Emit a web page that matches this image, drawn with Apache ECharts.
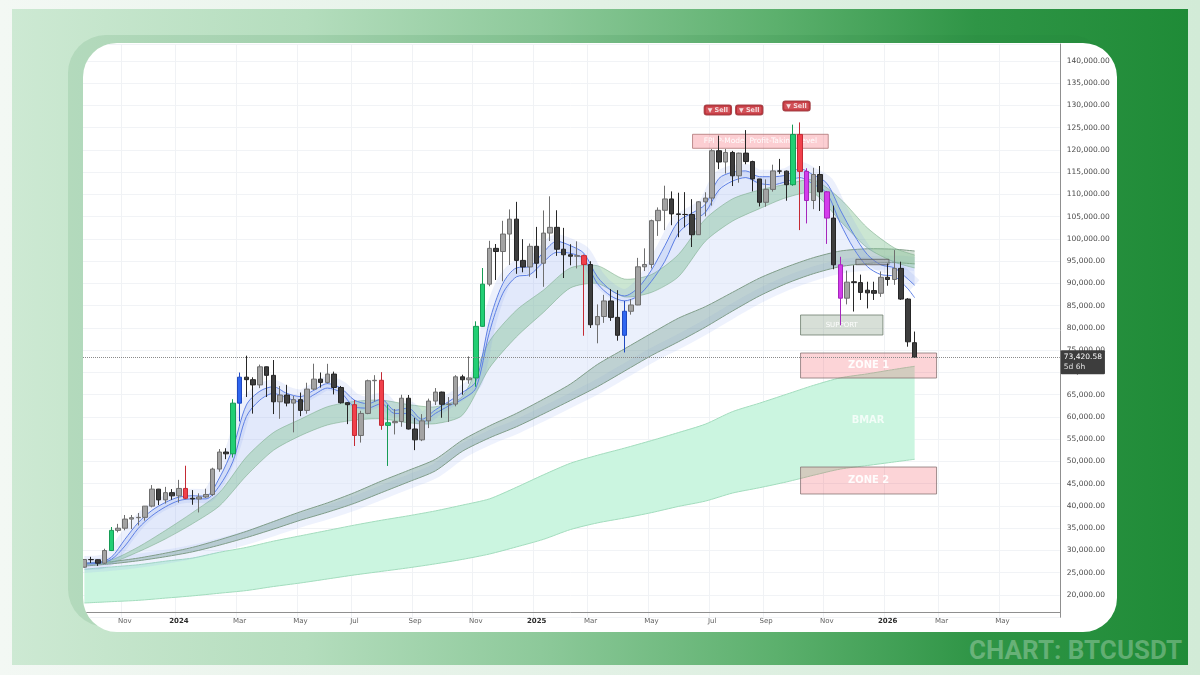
<!DOCTYPE html>
<html>
<head>
<meta charset="utf-8">
<script src="https://cdn.jsdelivr.net/npm/echarts@6.0.0/dist/echarts.min.js"></script>
<style>
  html, body { margin:0; padding:0; }
  body { width:1200px; height:675px; overflow:hidden; position:relative; background:linear-gradient(90deg,#f3f8f4 0%,#e2f1e5 50%,#d2ebd7 100%); }
  #panel { position:absolute; left:12px; top:9px; width:1176px; height:656px; background:linear-gradient(90deg,#cde9d3 0%,#b4ddbd 25%,#8dc99a 45%,#5cb06d 65%,#2f9546 82%,#1f8b37 100%); }
  #shade { position:absolute; left:68px; top:35px; width:1040px; height:592px; border-radius:38px; background:rgba(30,120,60,0.12); }
  #card { position:absolute; left:83px; top:43px; width:1034px; height:589px; border-radius:34px; background:#ffffff; overflow:hidden; }
  #chart { position:absolute; left:-83px; top:-43px; width:1200px; height:675px; }
  #brand { position:absolute; left:969px; top:635px; font-family:Roboto, 'Liberation Sans', sans-serif; font-weight:700; font-size:26px; color:rgba(255,255,255,0.28); white-space:nowrap; }
</style>
</head>
<body>
<div id="panel"></div>
<div id="shade"></div>
<div id="card"><div id="chart"></div></div>
<div id="brand">CHART: BTCUSDT</div>
<script>
// ---------- categories (weekly bars) ----------
const startWeek = Date.UTC(2023, 8, 25);
const weekCount = 145;
const weeks = [];
for (let i = 0; i < weekCount; i++) weeks.push(new Date(startWeek + i * 7 * 864e5).toISOString().slice(0, 10));

// ---------- tick labels ----------
const tickDates = ['2023-11-06','2024-01-01','2024-03-04','2024-05-06','2024-07-01','2024-09-02','2024-11-04','2025-01-06','2025-03-03','2025-05-05','2025-07-07','2025-09-01','2025-11-03','2026-01-05','2026-03-02','2026-05-04'];
const tickTexts = ['Nov','2024','Mar','May','Jul','Sep','Nov','2025','Mar','May','Jul','Sep','Nov','2026','Mar','May'];

// ---------- weekly OHLC (BTCUSDT) ----------
const open = [26250,27980,27930,27150,29990,34520,35010,37060,37370,37450,39970,43790,41370,43000,42280,43950,41730,41580,42030,42590,48300,52130,51730,63110,68950,68390,67210,71280,69360,63420,64940,63120,63900,61480,66270,68510,67770,69650,66630,63210,62770,55850,60800,68150,68250,58120,58710,58970,64220,57300,54870,59130,63580,65600,62850,62900,69030,68370,68780,80370,89855,97900,97185,101110,104460,95190,93720,98360,94550,101330,102620,97700,96460,96120,96260,94270,80730,82580,86080,82390,78360,83760,85170,93750,94280,104120,106450,109000,105640,105520,105500,100960,108360,109200,119840,117300,119450,114200,119300,117400,113490,108250,111150,115300,115250,112200,123500,115200,108650,114500,110600,104700,94200,86700,90400,90200,88500,88400,87800,91400,90900,93400,86500,76700];
const high = [28050,28580,28000,30400,35280,35980,37980,37980,38420,40000,44700,43840,44300,43800,45880,49050,43580,42850,43880,48600,52800,52980,64000,69990,73780,68920,71770,71340,72800,66950,67230,64730,65500,67700,71980,70000,71950,70200,66980,63370,63820,61400,68400,69400,70080,62750,61800,65000,64950,59800,60650,64130,66500,65700,64480,69400,69500,73620,81500,93480,99590,98870,104090,106650,108350,99960,98980,102720,106420,109590,106460,102500,98830,99480,96500,95000,85300,87450,88770,88500,86100,86500,95760,97900,104350,107100,111980,110700,110400,110530,108950,108500,110500,120200,123220,120250,119800,119400,124470,117600,113500,113400,116700,118000,115400,125700,126200,115900,116000,116400,110800,107500,96000,92900,94100,92000,90400,90400,92700,94500,97500,94900,86700,79200];
const low = [26100,27200,26540,26960,29880,34080,34530,34800,35630,36700,39700,40200,40550,41400,40750,41500,40280,38550,41800,42250,47700,50520,50900,59000,64500,60760,66480,64490,60660,59600,62390,56550,60190,60750,66050,66600,67500,65080,63000,58400,53480,54250,60630,63450,57120,49000,56080,57800,57200,52550,54580,57500,62700,59830,58900,62400,65000,67480,66800,80220,89380,90790,90500,94150,92180,92520,91530,91200,89260,99550,96200,91230,94090,93390,78260,80000,76560,81150,81600,77150,74500,83000,85140,92800,93380,100700,102000,103100,100400,102600,98200,100900,105100,107500,115700,114700,111900,112650,116800,110700,107300,107250,110650,114650,108600,111950,102000,103500,106700,106300,98900,93200,80600,85300,83700,86300,84400,86300,87000,89500,89700,86300,75800,73400];
const close = [27980,27930,27150,29990,34520,35010,37060,37370,37450,39970,43790,41370,43000,42280,43950,41730,41580,42030,42590,48300,52130,51730,63110,68950,68390,67210,71280,69360,63420,64940,63120,63900,61480,66270,68510,67770,69650,66630,63210,62770,55850,60800,68150,68250,58120,58710,58970,64220,57300,54870,59130,63580,65600,62850,62900,69030,68370,68780,80370,89855,97900,97185,101110,104460,95190,93720,98360,94550,101330,102620,97700,96460,96120,96260,94270,80730,82580,86080,82390,78360,83760,85170,93750,94280,104120,106450,109000,105640,105520,105500,100960,108360,109200,119840,117300,119450,114200,119300,117400,113490,108250,111150,115300,115250,112200,123500,115200,108650,114500,110600,104700,94200,86700,90300,90200,88000,87900,87800,91400,90900,93400,86500,76900,73420.58];

// indicator-coloured bars
const specialIdx  = [4,15,22,23,40,44,45,58,59,74,80,105,106,107,110,112];
const specialTone = ['green','red','green','blue','red','red','green','green','green','red','blue','green','red','magenta','magenta','magenta'];

// ---------- ribbons / bands ----------
const bandIdx = [0,4,8,12,16,20,24,28,32,36,40,44,48,52,56,60,64,68,72,76,80,84,88,92,96,100,104,108,112,116,120,123];
const bmarTop = [25800,26300,26800,27600,28300,29600,30700,32100,33300,34500,35700,36800,37800,38900,40200,41600,44200,47000,49600,51400,53000,54700,56500,58400,61200,63100,65100,67100,68800,69700,70700,71400];
const bmarBot = [18200,18500,18800,19300,19800,20400,21000,21900,22700,23600,24500,25300,26100,27000,28000,29200,30800,32500,34700,36200,37300,38500,39900,41100,42900,44100,45400,46900,48300,49100,49900,50500];
const longTop = [27000,27500,28300,29400,30700,32400,34300,36500,38700,40700,43000,45600,48000,50500,54800,58000,60800,64000,67400,71800,75300,78800,82200,84800,88000,91200,93700,95800,97300,97800,97700,97300];
const longBot = [26500,27000,27700,28600,29700,31200,32900,34800,36800,38600,40600,43000,45400,47900,52300,55300,57800,60700,63700,66800,70300,73800,76900,80200,83800,87200,90000,92200,93800,94500,94700,94400];
const greenTop = [27200,27900,30800,34500,38500,43000,51000,56500,59500,62300,63500,63800,62800,62300,64600,77000,84000,88500,93500,94000,91000,92000,96500,104500,109000,111000,112300,113300,109000,102500,98000,96400];
const greenBot = [26900,27300,29700,32600,36000,40000,46800,52500,55800,58200,59300,59600,58700,58500,60400,71000,78000,83500,89000,90000,87000,88000,91500,99500,104000,106800,109300,110300,104000,98000,94800,93500];

const fastIdx = [0,2,4,6,8,10,12,14,16,18,20,22,24,26,28,30,32,34,36,38,40,42,44,46,48,50,52,54,56,58,60,62,64,66,68,70,72,74,76,78,80,82,84,86,88,90,92,94,96,98,100,102,104,106,108,110,112,114,116,118,120,122,123];
const fastUp = [27200,27300,28500,32500,36300,39000,40800,42000,42300,42200,46300,53000,62700,65800,66800,65300,64600,66000,67500,66500,63800,63000,64000,61500,62000,59500,61600,63500,65500,68000,81400,90000,93500,93800,97000,99500,98500,96800,91500,88500,87200,89000,93000,98500,104000,105800,107800,113600,115000,115300,114000,114000,114400,115800,114400,112500,106500,101000,96500,94200,93500,91000,89600];
const fastLo = [27000,27100,28000,31000,35000,37800,39800,41200,41600,41600,44500,50000,60100,63800,65300,64300,63400,65000,66500,65500,62300,62000,63000,60800,60800,58800,60800,62500,64000,66500,79000,87800,91500,92000,94800,97000,96800,95500,90000,87200,86100,87200,90500,95000,101300,104000,106000,111000,113000,113800,112500,112200,112900,113800,112300,110300,103500,97800,93800,92000,91600,88800,86800];

// ---------- annotations ----------
const boxNames = ['FPI P-Mode  Profit-Taking Level','SUPPORT','','ZONE 1','ZONE 2'];
const boxStart = [90.1,106.1,114.3,106.1,106.1];
const boxEnd   = [110.2,118.3,119.2,126.25,126.25];
const boxLow   = [120380,78430,94220,68760,42700];
const boxHigh  = [123530,82920,95440,74380,48760];
const boxKind  = ['pinkSmall','gray','grayDark','pink','pink'];

const sellX = [93.85, 98.5, 105.5];
const sellY = [129000, 129000, 129900];
const sellText = ['Sell','Sell','Sell'];

const noteText = ['BMAR'];
const noteX = [116.1];
const noteY = [59300];

const lastPrice = close[close.length - 1];
const countdown = '5d 6h';

// ---------- styles ----------
const tone = {
  green:   {color:'#22cf74', border:'#169c55'},
  blue:    {color:'#2f66f0', border:'#1f48c0'},
  red:     {color:'#f1404b', border:'#c42a34'},
  magenta: {color:'#d43cec', border:'#a526bb'}
};
const boxStyle = {
  pink:      {fill:'rgba(242,60,75,0.22)', stroke:'rgba(130,110,110,0.75)', font:'bold 11px "Liberation Sans Narrow","DejaVu Sans Condensed",Roboto,sans-serif'},
  pinkSmall: {fill:'rgba(242,60,75,0.25)', stroke:'rgba(170,110,110,0.75)', font:'7.5px "DejaVu Sans",sans-serif'},
  gray:      {fill:'rgba(110,140,110,0.28)', stroke:'rgba(110,125,110,0.8)', font:'7px "DejaVu Sans",sans-serif'},
  grayDark:  {fill:'rgba(150,140,140,0.35)', stroke:'rgba(90,90,90,0.8)', font:'7px sans-serif'}
};
const FONT = '"DejaVu Sans", Verdana, sans-serif';

// ---------- build ----------
const tickMap = {};
tickDates.forEach((d, i) => tickMap[d] = tickTexts[i]);
const isTick = (i, v) => Object.prototype.hasOwnProperty.call(tickMap, v);

const candleData = open.map((o, i) => {
  const item = {value: [o, close[i], low[i], high[i]]};
  const k = specialIdx.indexOf(i);
  if (k >= 0) {
    const t = tone[specialTone[k]];
    item.itemStyle = {color: t.color, color0: t.color, borderColor: t.border, borderColor0: t.border};
  }
  return item;
});

const SMOOTH = 0.25;
function band(name, upX, upY, loX, loY, fill, edge, z) {
  return {
    type: 'custom', name, xAxisIndex: 1, yAxisIndex: 0, z, silent: true, clip: true,
    data: [[upX[0], upY[0]]], encode: {x: 0, y: 1},
    renderItem: (params, api) => {
      const up = upX.map((x, i) => api.coord([x, upY[i]]));
      const lo = loX.map((x, i) => api.coord([x, loY[i]]));
      const loR = lo.slice().reverse();
      const outline = [up[0]].concat(up, [up[up.length - 1], loR[0]], loR, [loR[loR.length - 1]]);
      const children = [{
        type: 'polygon', shape: {points: outline, smooth: SMOOTH},
        style: {fill: fill, stroke: null}
      }];
      if (edge) {
        children.push({type: 'polyline', shape: {points: up, smooth: SMOOTH}, style: {stroke: edge, lineWidth: 1, fill: null}});
        children.push({type: 'polyline', shape: {points: lo, smooth: SMOOTH}, style: {stroke: edge, lineWidth: 1, fill: null}});
      }
      return {type: 'group', children};
    }
  };
}

const pts = (xs, ys) => xs.map((x, i) => [x, ys[i]]);
const fmt = v => v.toLocaleString('en-US', {minimumFractionDigits: 2, maximumFractionDigits: 2});

const option = {
  animation: false,
  backgroundColor: 'transparent',
  grid: {left: 81, right: 140.25, top: 44, bottom: 57.75},
  xAxis: [{
    type: 'category', data: weeks, boundaryGap: true, offset: -5.25,
    axisLine: {show: true, onZero: false, lineStyle: {color: '#8f8f8f', width: 1}},
    axisTick: {show: false, alignWithLabel: true, interval: isTick},
    axisLabel: {
      interval: isTick, margin: 6, color: '#5a5a5a', fontSize: 7, fontFamily: FONT,
      formatter: v => {
        const t = tickMap[v] || '';
        return /^\d{4}$/.test(t) ? '{y|' + t + '}' : '{m|' + t + '}';
      },
      rich: {
        y: {fontSize: 7, fontWeight: 'bold', color: '#2b2b2b', fontFamily: FONT},
        m: {fontSize: 7, color: '#5f5f5f', fontFamily: FONT}
      }
    },
    splitLine: {show: true, interval: isTick, lineStyle: {color: '#f0f2f5', width: 1}}
  }, {
    type: 'value', min: -0.5, max: weekCount - 0.5, show: false,
    axisLine: {show: false, onZero: false}
  }],
  yAxis: [{
    type: 'value', position: 'right', min: 15000, max: 143820, interval: 5000,
    axisLine: {show: true, onZero: false, lineStyle: {color: '#8f8f8f'}},
    axisTick: {show: false},
    axisLabel: {color: '#4a4a4a', fontSize: 7.5, fontFamily: FONT, margin: 7, showMinLabel: false, showMaxLabel: false, formatter: fmt},
    splitLine: {show: true, lineStyle: {color: '#f1f3f6', width: 1}}
  }],
  series: [
    band('BMAR', bandIdx, bmarTop, bandIdx, bmarBot, '#cbf5e0', '#a2dcbd', 1),
    {type: 'line', name: 'halo low', xAxisIndex: 1, yAxisIndex: 0, z: 2, data: pts(bandIdx, longBot), smooth: 0.3, showSymbol: false, silent: true,
     lineStyle: {color: 'rgba(150,175,240,0.16)', width: 14}},
    band('Cloud', fastIdx, fastUp, bandIdx, longBot, 'rgba(150,175,242,0.28)', null, 2),
    band('Cloud light', bandIdx, greenBot, bandIdx, longTop, 'rgba(255,255,255,0.32)', null, 2),
    band('Long band', bandIdx, longTop, bandIdx, longBot, 'rgba(115,158,125,0.32)', '#7f9c88', 3),
    band('Green band', bandIdx, greenTop, bandIdx, greenBot, 'rgba(130,196,148,0.42)', 'rgba(120,170,135,0.55)', 4),
    {type: 'line', name: 'halo', xAxisIndex: 1, yAxisIndex: 0, z: 5, data: pts(fastIdx, fastUp), smooth: 0.3, showSymbol: false, silent: true,
     lineStyle: {color: 'rgba(120,150,235,0.14)', width: 14}},
    {type: 'line', name: 'Fast 1', xAxisIndex: 1, yAxisIndex: 0, z: 5, data: pts(fastIdx, fastUp), smooth: 0.3, showSymbol: false, silent: true,
     lineStyle: {color: '#5d7fe4', width: 1}},
    {type: 'line', name: 'Fast 2', xAxisIndex: 1, yAxisIndex: 0, z: 5, data: pts(fastIdx, fastLo), smooth: 0.3, showSymbol: false, silent: true,
     lineStyle: {color: '#5d7fe4', width: 1}},
    {
      type: 'custom', name: 'Boxes', xAxisIndex: 1, yAxisIndex: 0, z: 6, silent: true,
      data: boxStart.map((x, i) => [x, boxEnd[i], boxLow[i], boxHigh[i], i]),
      encode: {x: [0, 1], y: [2, 3]},
      renderItem: (params, api) => {
        const i = api.value(4);
        const a = api.coord([api.value(0), api.value(3)]);
        const b = api.coord([api.value(1), api.value(2)]);
        const st = boxStyle[boxKind[i]];
        return {type: 'group', children: [
          {type: 'rect', shape: {x: a[0], y: a[1], width: b[0] - a[0], height: b[1] - a[1]}, style: {fill: st.fill, stroke: st.stroke, lineWidth: 1}},
          {type: 'text', style: {text: boxNames[i], x: (a[0] + b[0]) / 2, y: (a[1] + b[1]) / 2, align: 'center', verticalAlign: 'middle', fill: 'rgba(255,255,255,0.95)', font: st.font}}
        ]};
      }
    },
    {
      type: 'candlestick', name: 'BTCUSDT', xAxisIndex: 0, yAxisIndex: 0, z: 7, barWidth: 5,
      data: candleData,
      itemStyle: {color: '#a3a3a3', color0: '#3e3e3e', borderColor: '#6f6f6f', borderColor0: '#262626', borderWidth: 1},
      markLine: {
        silent: true, symbol: ['none', 'none'], z: 9,
        lineStyle: {type: 'dotted', color: '#8a8a8a', width: 1},
        label: {
          show: true, position: 'end', distance: 1, offset: [0, 5],
          formatter: '{p|' + fmt(lastPrice) + '}\n{t|' + countdown + '}',
          backgroundColor: '#3d3d3d', padding: [2, 3, 2, 3], borderRadius: 1,
          rich: {
            p: {color: '#ffffff', fontSize: 7.5, fontFamily: FONT, lineHeight: 10},
            t: {color: '#e6e6e6', fontSize: 7.5, fontFamily: FONT, lineHeight: 10}
          }
        },
        data: [{yAxis: lastPrice}]
      }
    },
    {
      type: 'scatter', name: 'notes', xAxisIndex: 1, yAxisIndex: 0, z: 8, silent: true,
      symbolSize: 1, itemStyle: {color: 'transparent'},
      data: noteX.map((x, i) => ({value: [x, noteY[i]], name: noteText[i]})),
      label: {show: true, position: 'inside', formatter: p => p.name, color: 'rgba(255,255,255,0.95)', fontSize: 11, fontWeight: 'bold', fontFamily: '"Liberation Sans Narrow","DejaVu Sans Condensed",Roboto,sans-serif'}
    },
    {
      type: 'scatter', name: 'signals', xAxisIndex: 1, yAxisIndex: 0, z: 9, silent: true,
      symbolSize: 1, itemStyle: {color: 'transparent'},
      data: sellX.map((x, i) => ({value: [x, sellY[i]], name: sellText[i]})),
      label: {
        show: true, position: 'inside', formatter: p => '{a|▼} ' + p.name,
        color: '#ffffff', fontSize: 6.5, fontWeight: 'bold', fontFamily: FONT,
        backgroundColor: '#c6262e', borderColor: '#8f1a20', borderWidth: 1, borderRadius: 2, padding: [1, 3, 1, 3],
        rich: {a: {fontSize: 6, color: '#ffffff'}}
      }
    }
  ]
};

const chart = echarts.init(document.getElementById('chart'), null, {renderer: 'canvas'});
chart.setOption(option);
</script>
</body>
</html>
